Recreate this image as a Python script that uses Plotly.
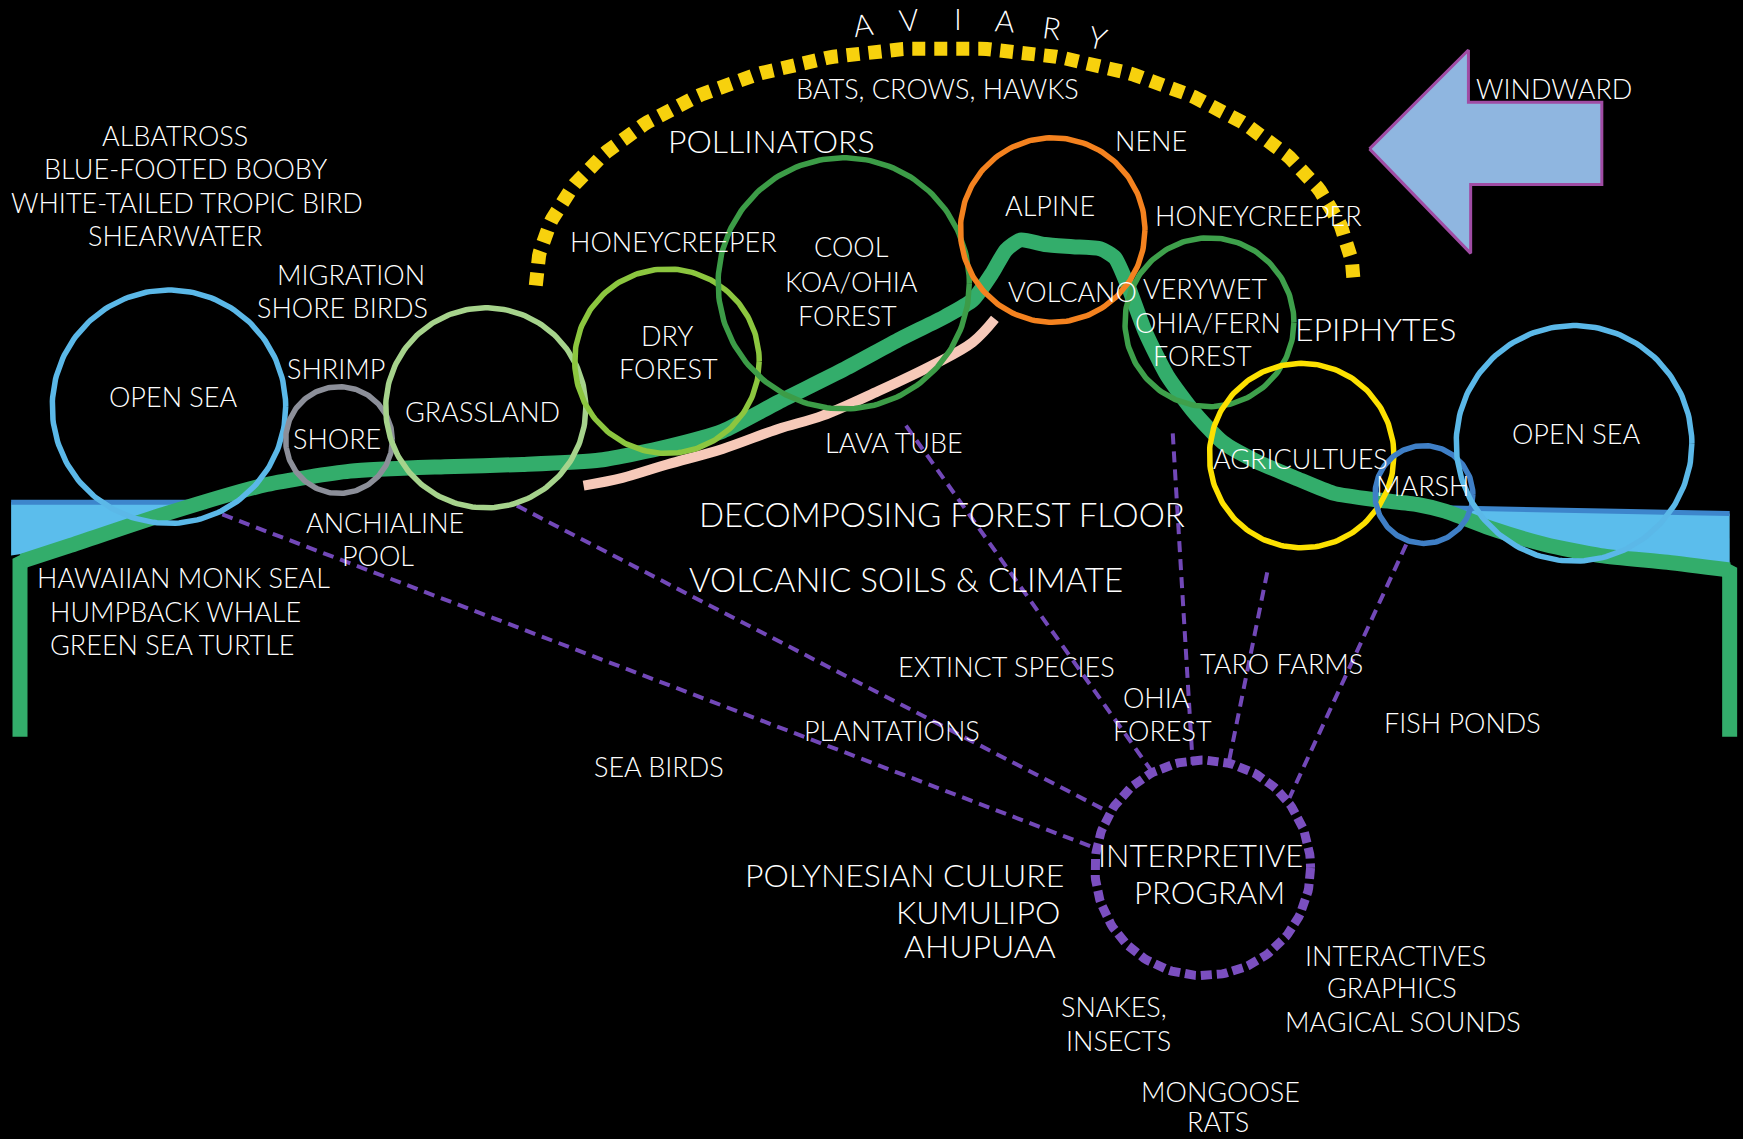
import numpy as np
import plotly.graph_objects as go

# ---------------- data (diagram coordinates, image-like: y grows downward) -------------
ground_left_x = [18, 18, 22]
ground_left_y = [663, 507, 505]
ground_x = [20, 60, 150, 240, 315, 400, 470, 540, 600, 650, 700, 760, 810, 850, 875, 893, 905, 918, 940, 965, 990, 1003, 1015, 1030, 1050, 1075, 1100, 1130, 1165, 1200, 1240, 1275, 1300, 1340, 1390, 1440, 1500, 1556]
ground_y = [505, 492, 462, 436, 424, 420, 418, 414, 402, 388, 362, 332, 305, 285, 270, 245, 225, 216, 220, 222, 224, 232, 258, 298, 338, 372, 398, 415, 430, 444, 450, 454, 460, 475, 490, 500, 506, 513]
ground_right_x = [1552, 1556, 1556]
ground_right_y = [513, 515, 663]

lava_x = [525, 560, 600, 650, 700, 740, 790, 840, 875, 895]
lava_y = [437, 430, 418, 404, 386, 374, 352, 328, 308, 287]

water_left_x = [10, 172, 150, 90, 22, 10]
water_left_y = [452, 452, 461, 478, 498, 500]
water_right_x = [1295, 1556, 1556, 1500, 1440, 1390, 1340, 1300]
water_right_y = [457, 462, 512, 506, 500, 490, 475, 460]

circle_names = ["open_sea_l", "shore", "grassland", "dry", "koa", "alpine", "verywet", "agri", "marsh", "open_sea_r"]
circle_cx = [152, 305, 437, 600, 759, 947, 1088, 1171, 1281, 1416]
circle_cy = [366, 396, 367, 325, 255, 207, 290, 410, 445, 399]
circle_r = [105, 48, 90, 83, 113, 83, 76, 83, 44, 106]
circle_col = ["#5bb8e8", "#8c8f99", "#a6d38c", "#8cc63f", "#3c9c47", "#f4821f", "#3ea04b", "#fde100", "#3f7fc6", "#5bb8e8"]

interp_cx, interp_cy, interp_r = 1082, 781, 97

link_x0 = [200, 465, 815, 1055, 1140, 1265]
link_y0 = [463, 455, 383, 390, 515, 490]
link_x1 = [990, 992, 1036, 1073, 1105, 1160]
link_y1 = [765, 728, 694, 688, 688, 718]

aviary_cx, aviary_cy, aviary_rx, aviary_ry = 850, 257, 368, 214

arrow_x = [1232, 1321, 1321, 1441, 1441, 1323, 1323, 1232]
arrow_y = [134, 45, 92, 92, 166, 166, 228, 134]

aviary_letters = ["A", "V", "I", "A", "R", "Y"]
aviary_lx = [776, 818, 862, 904, 946, 988]
aviary_ly = [22, 17, 16, 18, 24, 33]
aviary_rot = [-8, -5, 0, 4, 8, 14]

labels_small = [
    ("ALBATROSS", 157, 122), ("BLUE-FOOTED BOOBY", 167, 152), ("WHITE-TAILED TROPIC BIRD", 168, 182), ("SHEARWATER", 157, 212),
    ("MIGRATION", 316, 247), ("SHORE BIRDS", 308, 277), ("SHRIMP", 302, 332), ("OPEN SEA", 156, 357),
    ("SHORE", 303, 395), ("GRASSLAND", 434, 370), ("ANCHIALINE", 346, 470), ("POOL", 340, 500),
    ("HAWAIIAN MONK SEAL", 165, 520), ("HUMPBACK WHALE", 158, 550), ("GREEN SEA TURTLE", 155, 580),
    ("HONEYCREEPER", 606, 217), ("BATS, CROWS, HAWKS", 843, 80),
    ("DRY", 600, 302), ("FOREST", 601, 332), ("COOL", 766, 222), ("KOA/OHIA", 766, 253), ("FOREST", 762, 284),
    ("NENE", 1035, 126), ("ALPINE", 945, 185), ("VOLCANO", 965, 262), ("VERYWET", 1084, 260),
    ("HONEYCREEPER", 1132, 194), ("OHIA/FERN", 1087, 290), ("FOREST", 1082, 320),
    ("LAVA TUBE", 804, 398), ("AGRICULTUES", 1170, 413), ("MARSH", 1280, 437), ("OPEN SEA", 1418, 390),
    ("WINDWARD", 1398, 80), ("EXTINCT SPECIES", 905, 600), ("TARO FARMS", 1153, 597),
    ("OHIA", 1040, 628), ("FOREST", 1046, 657), ("PLANTATIONS", 802, 657), ("FISH PONDS", 1316, 650),
    ("SEA BIRDS", 593, 690), ("INTERACTIVES", 1255, 860), ("GRAPHICS", 1252, 889), ("MAGICAL SOUNDS", 1262, 919),
    ("SNAKES,", 1002, 906), ("INSECTS", 1006, 936), ("MONGOOSE", 1098, 982), ("RATS", 1096, 1009),
]
labels_big = [
    ("POLLINATORS", 694, 126, 32), ("EPIPHYTES", 1237, 296, 32),
    ("DECOMPOSING FOREST FLOOR", 847, 463, 33), ("VOLCANIC SOILS & CLIMATE", 815, 521, 33),
    ("INTERPRETIVE", 1080, 769, 31), ("PROGRAM", 1088, 803, 31),
    ("POLYNESIAN CULURE", 814, 787, 32), ("KUMULIPO", 880, 820, 32), ("AHUPUAA", 882, 851, 32),
]

# ---------------- figure ----------------
FONT = "Lato"
fig = go.Figure()

# water
fig.add_trace(go.Scatter(x=water_left_x, y=water_left_y, fill="toself", fillcolor="#5bbdec",
                         line=dict(width=0), mode="lines", hoverinfo="skip"))
fig.add_trace(go.Scatter(x=water_right_x, y=water_right_y, fill="toself", fillcolor="#5bbdec",
                         line=dict(width=0), mode="lines", hoverinfo="skip"))
fig.add_trace(go.Scatter(x=water_left_x[:2], y=water_left_y[:2], mode="lines",
                         line=dict(color="#3d86cc", width=5), hoverinfo="skip"))
fig.add_trace(go.Scatter(x=water_right_x[:2], y=water_right_y[:2], mode="lines",
                         line=dict(color="#3d86cc", width=5), hoverinfo="skip"))

# dashed links
for x0, y0, x1, y1 in zip(link_x0, link_y0, link_x1, link_y1):
    fig.add_trace(go.Scatter(x=[x0, x1], y=[y0, y1], mode="lines",
                             line=dict(color="#7248b8", width=4, dash="11px,7px"), hoverinfo="skip"))

# ground line and lava tube
GREEN = "#33ad6b"
fig.add_trace(go.Scatter(x=ground_left_x, y=ground_left_y, mode="lines", line=dict(color=GREEN, width=15), hoverinfo="skip"))
fig.add_trace(go.Scatter(x=ground_right_x, y=ground_right_y, mode="lines", line=dict(color=GREEN, width=15), hoverinfo="skip"))
fig.add_trace(go.Scatter(x=ground_x, y=ground_y, mode="lines", line=dict(color=GREEN, width=15, shape="spline", smoothing=0.6),
                         hoverinfo="skip"))
fig.add_trace(go.Scatter(x=lava_x, y=lava_y, mode="lines", line=dict(color="#f6c9b9", width=10, shape="spline"),
                         hoverinfo="skip"))

# habitat circles
t = np.linspace(0, 2 * np.pi, 200)
for cx, cy, r, c in zip(circle_cx, circle_cy, circle_r, circle_col):
    fig.add_trace(go.Scatter(x=cx + r * np.cos(t), y=cy + r * np.sin(t), mode="lines",
                             line=dict(color=c, width=5.5), hoverinfo="skip"))

# interpretive program circle
fig.add_trace(go.Scatter(x=interp_cx + interp_r * np.cos(t), y=interp_cy + interp_r * np.sin(t), mode="lines",
                         line=dict(color="#7b4fc0", width=9, dash="11px,5px"), hoverinfo="skip"))

# aviary arc
ta = np.linspace(np.pi, 2 * np.pi, 200)
fig.add_trace(go.Scatter(x=aviary_cx + aviary_rx * np.cos(ta), y=aviary_cy + aviary_ry * np.sin(ta), mode="lines",
                         line=dict(color="#f7d10d", width=14, dash="13px,9px"), hoverinfo="skip"))

# windward arrow
fig.add_trace(go.Scatter(x=arrow_x, y=arrow_y, fill="toself", fillcolor="#8fb6e0", mode="lines",
                         line=dict(color="#a04ca4", width=3), hoverinfo="skip"))

# text
for txt, x, y in labels_small:
    fig.add_annotation(x=x, y=y, text=txt, showarrow=False, font=dict(family=FONT, size=27, color="white", weight=300))
for txt, x, y, s in labels_big:
    fig.add_annotation(x=x, y=y, text=txt, showarrow=False, font=dict(family=FONT, size=s, color="white", weight=300))
for ch, x, y, rot in zip(aviary_letters, aviary_lx, aviary_ly, aviary_rot):
    fig.add_annotation(x=x, y=y, text=ch, showarrow=False, textangle=rot,
                       font=dict(family=FONT, size=30, color="white", weight=300))

fig.update_layout(
    width=1743, height=1139, margin=dict(l=0, r=0, t=0, b=0),
    paper_bgcolor="black", plot_bgcolor="black", showlegend=False,
    xaxis=dict(range=[0, 1568], visible=False, fixedrange=True),
    yaxis=dict(range=[1025, 0], visible=False, fixedrange=True),
)
fig.write_html("out.html", config={"displayModeBar": False},
               post_script="document.body.style.margin='0';document.body.style.background='black';")
